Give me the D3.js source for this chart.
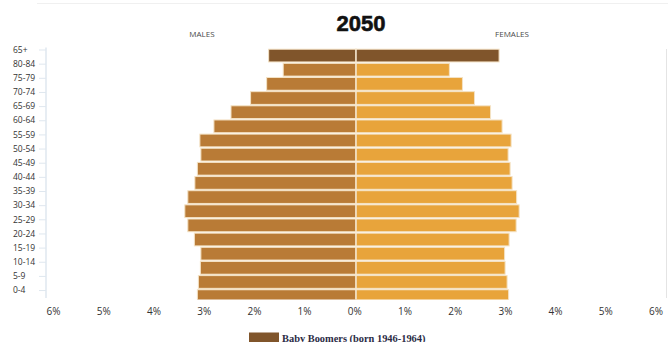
<!DOCTYPE html>
<html>
<head>
<meta charset="utf-8">
<script src="https://cdn.jsdelivr.net/npm/d3@7/dist/d3.min.js"></script>
<style>
  html, body { margin: 0; padding: 0; background: #fff; }
  svg { display: block; }
</style>
</head>
<body>
<svg id="chart" width="668" height="342"></svg>
<script>
const title = "2050";
const ages = ["65+", "80-84", "75-79", "70-74", "65-69", "60-64", "55-59", "50-54", "45-49",
  "40-44", "35-39", "30-34", "25-29", "20-24", "15-19", "10-14", "5-9", "0-4"];
const males = [1.74, 1.45, 1.78, 2.10, 2.49, 2.83, 3.11, 3.09, 3.16,
  3.21, 3.35, 3.41, 3.35, 3.22, 3.09, 3.10, 3.14, 3.16];
const females = [2.85, 1.86, 2.12, 2.36, 2.68, 2.91, 3.09, 3.03, 3.07,
  3.11, 3.20, 3.25, 3.19, 3.05, 2.96, 2.97, 3.01, 3.04];
const boomerGroups = ["65+"];
const xTicks = [-6, -5, -4, -3, -2, -1, 0, 1, 2, 3, 4, 5, 6];
const legendLabel = "Baby Boomers (born 1946-1964)";

const colMale = "#b97b36", colFemale = "#e8a43b", colBoomer = "#80552b";

const svg = d3.select("#chart");

const x = d3.scaleLinear().domain([-6, 6]).range([54.8, 657.2]);
const y = d3.scaleBand().domain(ages).range([48.5, 48.5 + 18 * 14.15]).paddingInner(0.1).paddingOuter(0.05);

// faint top rule
svg.append("line").attr("x1", 37).attr("x2", 668).attr("y1", 3.5).attr("y2", 3.5)
  .attr("stroke", "#f0f0f0").attr("stroke-width", 1);

// right frame line
svg.append("line").attr("x1", 666.5).attr("x2", 666.5).attr("y1", 49).attr("y2", 298)
  .attr("stroke", "#e4e4e4").attr("stroke-width", 1);

// title
svg.append("text").attr("x", 361).attr("y", 30.5).attr("text-anchor", "middle")
  .attr("font-family", "Liberation Sans, Arial, sans-serif").attr("font-weight", "bold")
  .attr("font-size", 22).attr("fill", "#111").attr("stroke", "#111").attr("stroke-width", 0.6)
  .text(title);

// side labels
svg.append("text").attr("x", 202).attr("y", 36.5).attr("text-anchor", "middle")
  .attr("font-family", "Open Sans, sans-serif").attr("font-size", 8).attr("fill", "#4a4a4a")
  .text("MALES");
svg.append("text").attr("x", 512).attr("y", 36.5).attr("text-anchor", "middle")
  .attr("font-family", "Open Sans, sans-serif").attr("font-size", 8).attr("fill", "#4a4a4a")
  .text("FEMALES");

// clip
svg.append("clipPath").attr("id", "plotclip").append("rect")
  .attr("x", 0).attr("y", 40).attr("width", 668).attr("height", 259.5);

const rows = ages.map((a, i) => ({ age: a, m: males[i], f: females[i], boomer: boomerGroups.includes(a) }));

const g = svg.append("g").attr("clip-path", "url(#plotclip)");

g.selectAll("rect.male").data(rows).join("rect").attr("class", "male")
  .attr("x", d => x(-d.m)).attr("width", d => x(0) - x(-d.m))
  .attr("y", d => y(d.age)).attr("height", y.bandwidth())
  .attr("fill", d => d.boomer ? colBoomer : colMale)
  .attr("stroke", "#f4e2c4").attr("stroke-width", 1);

g.selectAll("rect.female").data(rows).join("rect").attr("class", "female")
  .attr("x", x(0)).attr("width", d => x(d.f) - x(0))
  .attr("y", d => y(d.age)).attr("height", y.bandwidth())
  .attr("fill", d => d.boomer ? colBoomer : colFemale)
  .attr("stroke", "#f4e2c4").attr("stroke-width", 1);

// center line
g.append("line").attr("x1", x(0)).attr("x2", x(0)).attr("y1", 48).attr("y2", 300)
  .attr("stroke", "#f7ecd9").attr("stroke-width", 1);

// y axis
const yLab = d3.scalePoint().domain(ages).range([y(ages[0]) + 0.3, y(ages[ages.length - 1]) + 0.3]);
const yAxis = svg.append("g").attr("transform", "translate(46,0)")
  .call(d3.axisLeft(yLab).tickSize(7).tickPadding(0));
yAxis.select(".domain").remove();
yAxis.append("line").attr("x1", 0).attr("x2", 0).attr("y1", 47.5).attr("y2", 298)
  .attr("stroke", "#dfe7ef").attr("stroke-width", 1.5);
yAxis.selectAll(".tick line").attr("stroke", "#dfe7ef").attr("stroke-width", 1);
yAxis.selectAll(".tick text").attr("x", -33).attr("text-anchor", "start")
  .attr("font-family", "Open Sans, sans-serif").attr("font-size", 8.5).attr("fill", "#333");

// x axis
const xAxis = svg.append("g").attr("transform", "translate(-1.7,308)")
  .call(d3.axisBottom(x).tickValues(xTicks).tickSize(0).tickPadding(0)
    .tickFormat(d => Math.abs(d) + "%"));
xAxis.select(".domain").remove();
xAxis.selectAll(".tick text").attr("dy", "0.71em")
  .attr("font-family", "Open Sans, sans-serif").attr("font-size", 10).attr("fill", "#333");

// legend
svg.append("rect").attr("x", 249).attr("y", 332.5).attr("width", 30).attr("height", 12)
  .attr("fill", colBoomer);
svg.append("text").attr("x", 282).attr("y", 341.5)
  .attr("font-family", "Liberation Serif, Times New Roman, serif").attr("font-weight", "bold")
  .attr("font-size", 10.4).attr("fill", "#2b2b45").text(legendLabel);
</script>
</body>
</html>
